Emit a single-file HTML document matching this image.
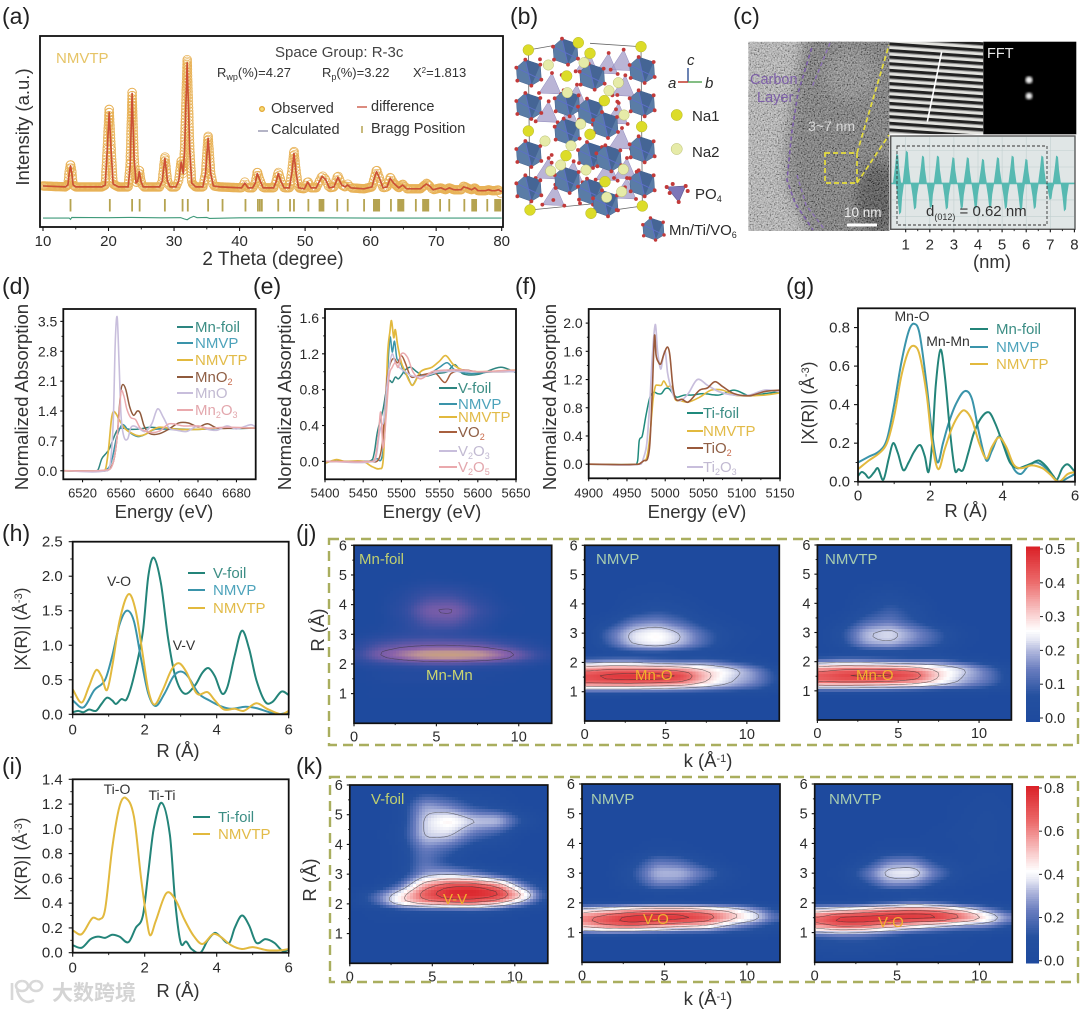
<!DOCTYPE html>
<html lang="en">
<head>
<meta charset="utf-8">
<title>NMVTP characterisation figure</title>
<style>
html,body{margin:0;padding:0;background:#fff;}
#figure{display:block;width:1080px;height:1012px;background:#fff;}
svg text{font-family:"Liberation Sans","Noto Sans CJK SC",sans-serif;fill:#2a2a2a;}
.pl{font-size:23px;fill:#222;}
.at{font-size:18.5px;fill:#333;}
.tk{font-size:14.5px;fill:#2a2a2a;}
.lg{font-size:15px;}
.ann{font-size:14px;fill:#333;}
.foil{fill:#3b8d84;}.vp{fill:#4da3bb;}.vtp{fill:#e2bb48;}.mo2{fill:#8f5f45;}.mo{fill:#c2bad2;}.m23{fill:#e3a7ad;}
.ln{stroke-width:2;fill:none;}
</style>
</head>
<body>
<svg id="figure" xmlns="http://www.w3.org/2000/svg" width="1080" height="1012" viewBox="0 0 1080 1012">
<defs>
<filter id="noise" x="0" y="0" width="100%" height="100%"><feTurbulence type="fractalNoise" baseFrequency="0.7" numOctaves="2" seed="4"/><feColorMatrix type="matrix" values="1.5 1.5 0 0 -1  1.5 1.5 0 0 -1  1.5 1.5 0 0 -1  0 0 0 0 0.42"/></filter>
<filter id="soft"><feGaussianBlur stdDeviation="6"/></filter>
<filter id="soft2"><feGaussianBlur stdDeviation="1.3"/></filter>
<clipPath id="temClip"><rect x="748.3" y="41.7" width="141" height="189.3"/></clipPath>
<clipPath id="latClip"><rect x="889.3" y="41.7" width="94" height="92.6"/></clipPath>
<pattern id="fringes" width="40" height="6.6" patternUnits="userSpaceOnUse" patternTransform="rotate(4)">
<rect width="40" height="6.6" fill="#e2e2de"/><rect y="0" width="40" height="3" fill="#222"/><rect y="3" width="40" height="0.9" fill="#888"/>
</pattern>
</defs>

<!-- TEM image (c) -->
<g id="tem">
<g clip-path="url(#temClip)">
<rect x="748.3" y="41.7" width="141" height="189.3" fill="#b2b2b2"/>
<path d="M806 30 L793 100 L786 150 L788 187 L812 240 L900 240 L900 30 Z" fill="#626262" filter="url(#soft)"/>
<ellipse cx="878" cy="198" rx="22" ry="36" fill="#2c2c2c" filter="url(#soft)"/>
<ellipse cx="850" cy="75" rx="26" ry="26" fill="#7a7a7a" filter="url(#soft)"/>
<rect x="748.3" y="41.7" width="141" height="189.3" filter="url(#noise)"/>
</g>
<path d="M811.7 48 L798 93 L791.7 133 L787 180 L795 203 L813 230" fill="none" stroke="#7a5ca8" stroke-width="1.6" stroke-dasharray="4 3"/>
<path d="M830 43 L812 87 M797 175 L806 205 L825 230" fill="none" stroke="#8a70b4" stroke-width="1.4" stroke-dasharray="4 3"/>
<text x="750" y="84" style="font-size:14.5px;fill:#7d5fa8">Carbon</text>
<text x="757" y="102" style="font-size:14.5px;fill:#7d5fa8">Layer</text>
<text x="808" y="131" style="font-size:14px;fill:#d8d8d8">3~7 nm</text>
<text x="844" y="217" style="font-size:13.5px;fill:#eee">10 nm</text>
<rect x="847" y="223.5" width="30" height="3" fill="#fff"/>
<path d="M825 153 L857 153 L857 183 L825 183 Z M857 153 L889 45 M857 183 L889 135" fill="none" stroke="#e6dd3c" stroke-width="1.7" stroke-dasharray="5 3"/>
<g clip-path="url(#latClip)">
<rect x="889.3" y="41.7" width="94" height="92.6" fill="url(#fringes)"/>
</g>
<line x1="941.7" y1="51.7" x2="927.3" y2="121.7" stroke="#fff" stroke-width="1.6"/>
<rect x="983.3" y="41.7" width="93" height="92.6" fill="#000"/>
<circle cx="1029" cy="80" r="3.6" fill="#eee" filter="url(#soft2)"/>
<circle cx="1029" cy="96" r="3.4" fill="#eee" filter="url(#soft2)"/>
<text x="987" y="58" style="font-size:14.5px;fill:#e8e8e8">FFT</text>
<rect x="890.7" y="136" width="184.3" height="93.3" fill="#e0e6e6" stroke="#555" stroke-width="1.2"/>
</g>

<g id="plots"></g>

<!-- panel letters -->
<g>
<text class="pl" x="2" y="24">(a)</text>
<text class="pl" x="510" y="24">(b)</text>
<text class="pl" x="733" y="24">(c)</text>
<text class="pl" x="2" y="294">(d)</text>
<text class="pl" x="253" y="294">(e)</text>
<text class="pl" x="515" y="294">(f)</text>
<text class="pl" x="786" y="294">(g)</text>
<text class="pl" x="2" y="541">(h)</text>
<text class="pl" x="296" y="541">(j)</text>
<text class="pl" x="2" y="774">(i)</text>
<text class="pl" x="296" y="774">(k)</text>
</g>

<!-- panel a text -->
<g>
<text class="at" transform="translate(29,127) rotate(-90)" text-anchor="middle">Intensity (a.u.)</text>
<text class="at" x="273" y="265" text-anchor="middle" style="font-size:19px">2 Theta (degree)</text>
<text x="56" y="63" style="font-size:15px;fill:#e6c466">NMVTP</text>
<text x="275" y="57" style="font-size:15px;fill:#444">Space Group: R-3c</text>
<text x="217" y="77" style="font-size:13px;fill:#333">R<tspan dy="3" font-size="9">wp</tspan><tspan dy="-3">(%)=4.27</tspan></text>
<text x="322" y="77" style="font-size:13px;fill:#333">R<tspan dy="3" font-size="9">p</tspan><tspan dy="-3">(%)=3.22</tspan></text>
<text x="413" y="77" style="font-size:13px;fill:#333">X<tspan dy="-4" font-size="8">2</tspan><tspan dy="4">=1.813</tspan></text>
<circle cx="262" cy="109" r="2.4" fill="#f3dc7a" stroke="#e3a530" stroke-width="1.2"/>
<text x="271" y="113" style="font-size:14.5px;fill:#333">Observed</text>
<line x1="258" y1="131" x2="268" y2="131" stroke="#8c8ca8" stroke-width="1.3"/>
<text x="271" y="134" style="font-size:14.5px;fill:#333">Calculated</text>
<line x1="357" y1="107" x2="367" y2="107" stroke="#cc5b4a" stroke-width="1.4"/>
<text x="371" y="111" style="font-size:14.5px;fill:#333">difference</text>
<line x1="362" y1="126" x2="362" y2="133" stroke="#b5a350" stroke-width="1.5"/>
<text x="371" y="133" style="font-size:14.5px;fill:#333">Bragg Position</text>
</g>

<!-- panel b labels -->
<g>
<text x="687" y="65" style="font-size:15px;font-style:italic">c</text>
<text x="668" y="88" style="font-size:15px;font-style:italic">a</text>
<text x="705" y="88" style="font-size:15px;font-style:italic">b</text>
<line x1="688" y1="82" x2="688" y2="68" stroke="#3a5a9a" stroke-width="1.5"/>
<line x1="688" y1="82" x2="678" y2="82" stroke="#c0392b" stroke-width="1.5"/>
<line x1="688" y1="82" x2="702" y2="82" stroke="#5aa85a" stroke-width="1.5"/>
<circle cx="676.7" cy="115" r="5.6" fill="#dcdc28" stroke="#b5b530" stroke-width="0.5"/>
<text x="692" y="121" style="font-size:15px">Na1</text>
<circle cx="676.7" cy="149" r="5.6" fill="#e6eba8" stroke="#b8bd70" stroke-width="0.5"/>
<text x="692" y="157" style="font-size:15px">Na2</text>
<text x="695" y="199" style="font-size:15px">PO<tspan dy="3" font-size="9">4</tspan></text>
<text x="669" y="235" style="font-size:15px">Mn/Ti/VO<tspan dy="3" font-size="9">6</tspan></text>
</g>

<!-- panel c labels -->
<text x="926" y="216" style="font-size:15px;fill:#333">d<tspan dy="4" font-size="9">(012)</tspan><tspan dy="-4"> = 0.62 nm</tspan></text>
<text class="at" x="992" y="268" text-anchor="middle">(nm)</text>

<!-- d -->
<g>
<text class="at" transform="translate(28,397) rotate(-90)" text-anchor="middle">Normalized Absorption</text>
<text class="at" x="164" y="518" text-anchor="middle">Energy (eV)</text>
<line class="ln" x1="177" y1="327" x2="193" y2="327" stroke="#2d8580"/>
<text class="lg foil" x="195" y="332">Mn-foil</text>
<line class="ln" x1="177" y1="343" x2="193" y2="343" stroke="#3a94aa"/>
<text class="lg vp" x="195" y="348">NMVP</text>
<line class="ln" x1="177" y1="360" x2="193" y2="360" stroke="#e2b93e"/>
<text class="lg vtp" x="195" y="365">NMVTP</text>
<line class="ln" x1="177" y1="377" x2="193" y2="377" stroke="#8f5a3c"/>
<text class="lg mo2" x="195" y="382">MnO<tspan dy="3" font-size="9" fill="#c96a4a">2</tspan></text>
<line class="ln" x1="177" y1="393" x2="193" y2="393" stroke="#c8bedc"/>
<text class="lg mo" x="195" y="398">MnO</text>
<line class="ln" x1="177" y1="410" x2="193" y2="410" stroke="#eaa9ad"/>
<text class="lg m23" x="195" y="415">Mn<tspan dy="3" font-size="9">2</tspan><tspan dy="-3">O</tspan><tspan dy="3" font-size="9">3</tspan></text>
</g>

<!-- e -->
<g>
<text class="at" transform="translate(291,397) rotate(-90)" text-anchor="middle">Normalized Absorption</text>
<text class="at" x="432" y="518" text-anchor="middle">Energy (eV)</text>
<line class="ln" x1="439" y1="388" x2="457" y2="388" stroke="#2d8580"/>
<text class="lg foil" x="458" y="393">V-foil</text>
<line class="ln" x1="439" y1="404" x2="457" y2="404" stroke="#3a94aa"/>
<text class="lg vp" x="458" y="409">NMVP</text>
<line class="ln" x1="439" y1="417" x2="457" y2="417" stroke="#e2b93e"/>
<text class="lg vtp" x="458" y="422">NMVTP</text>
<line class="ln" x1="439" y1="432" x2="457" y2="432" stroke="#a8603f"/>
<text class="lg mo2" x="458" y="437">VO<tspan dy="3" font-size="9" fill="#c96a4a">2</tspan></text>
<line class="ln" x1="439" y1="451" x2="457" y2="451" stroke="#c8bedc"/>
<text class="lg mo" x="458" y="456">V<tspan dy="3" font-size="9">2</tspan><tspan dy="-3">O</tspan><tspan dy="3" font-size="9">3</tspan></text>
<line class="ln" x1="439" y1="467" x2="457" y2="467" stroke="#eaa9ad"/>
<text class="lg m23" x="458" y="472">V<tspan dy="3" font-size="9">2</tspan><tspan dy="-3">O</tspan><tspan dy="3" font-size="9">5</tspan></text>
</g>

<!-- f -->
<g>
<text class="at" transform="translate(556,397) rotate(-90)" text-anchor="middle">Normalized Absorption</text>
<text class="at" x="697" y="518" text-anchor="middle">Energy (eV)</text>
<line class="ln" x1="687" y1="413" x2="703" y2="413" stroke="#1f8a7c"/>
<text class="lg foil" x="703" y="418">Ti-foil</text>
<line class="ln" x1="687" y1="431" x2="703" y2="431" stroke="#e2b93e"/>
<text class="lg vtp" x="703" y="436">NMVTP</text>
<line class="ln" x1="687" y1="448" x2="703" y2="448" stroke="#9a5a3c"/>
<text class="lg mo2" x="703" y="453">TiO<tspan dy="3" font-size="9" fill="#c96a4a">2</tspan></text>
<line class="ln" x1="687" y1="467" x2="703" y2="467" stroke="#c8bedc"/>
<text class="lg mo" x="703" y="472">Ti<tspan dy="3" font-size="9">2</tspan><tspan dy="-3">O</tspan><tspan dy="3" font-size="9">3</tspan></text>
</g>

<!-- g -->
<g>
<text class="at" transform="translate(814,403) rotate(-90)" text-anchor="middle" style="font-size:17.5px">|X(R)| (Å<tspan dy="-5" font-size="11">-3</tspan><tspan dy="5">)</tspan></text>
<text class="at" x="966" y="517" text-anchor="middle">R (Å)</text>
<text class="ann" x="912" y="321" text-anchor="middle">Mn-O</text>
<text class="ann" x="948" y="346" text-anchor="middle">Mn-Mn</text>
<line class="ln" x1="970" y1="329" x2="988" y2="329" stroke="#238479"/>
<text class="lg foil" x="996" y="334">Mn-foil</text>
<line class="ln" x1="970" y1="347" x2="988" y2="347" stroke="#3a94aa"/>
<text class="lg vp" x="996" y="352">NMVP</text>
<line class="ln" x1="970" y1="364" x2="988" y2="364" stroke="#e2b93e"/>
<text class="lg vtp" x="996" y="369">NMVTP</text>
</g>

<!-- h -->
<g>
<text class="at" transform="translate(27,629) rotate(-90)" text-anchor="middle" style="font-size:17.5px">|X(R)| (Å<tspan dy="-5" font-size="11">-3</tspan><tspan dy="5">)</tspan></text>
<text class="at" x="178" y="757" text-anchor="middle">R (Å)</text>
<text class="ann" x="119" y="586" text-anchor="middle">V-O</text>
<text class="ann" x="184" y="650" text-anchor="middle">V-V</text>
<line class="ln" x1="188" y1="573" x2="205" y2="573" stroke="#238479"/>
<text class="lg foil" x="213" y="578">V-foil</text>
<line class="ln" x1="188" y1="590" x2="205" y2="590" stroke="#3a94aa"/>
<text class="lg vp" x="213" y="595">NMVP</text>
<line class="ln" x1="188" y1="608" x2="205" y2="608" stroke="#e2b93e"/>
<text class="lg vtp" x="213" y="613">NMVTP</text>
</g>

<!-- i -->
<g>
<text class="at" transform="translate(27,859) rotate(-90)" text-anchor="middle" style="font-size:17.5px">|X(R)| (Å<tspan dy="-5" font-size="11">-3</tspan><tspan dy="5">)</tspan></text>
<text class="at" x="178" y="997" text-anchor="middle">R (Å)</text>
<text class="ann" x="117" y="794" text-anchor="middle">Ti-O</text>
<text class="ann" x="162" y="800" text-anchor="middle">Ti-Ti</text>
<line class="ln" x1="193" y1="817" x2="210" y2="817" stroke="#238479"/>
<text class="lg foil" x="218" y="822">Ti-foil</text>
<line class="ln" x1="193" y1="834" x2="210" y2="834" stroke="#e2b93e"/>
<text class="lg vtp" x="218" y="839">NMVTP</text>
</g>

<!-- j -->
<g>
<rect x="329" y="539" width="749" height="206" fill="none" stroke="#a9ae5e" stroke-width="2.4" stroke-dasharray="10 6"/>
<text class="at" transform="translate(324,630) rotate(-90)" text-anchor="middle">R (Å)</text>
<text class="at" x="708" y="767" text-anchor="middle">k (Å<tspan dy="-5" font-size="11">-1</tspan><tspan dy="5">)</tspan></text>
<text x="359" y="564" style="font-size:15px;fill:#c0d070">Mn-foil</text>
<text x="596" y="564" style="font-size:15px;fill:#a8cdb0">NMVP</text>
<text x="825" y="564" style="font-size:15px;fill:#a8cdb0">NMVTP</text>
<text x="426" y="680" style="font-size:15px;fill:#cdd770">Mn-Mn</text>
<text x="635" y="680" style="font-size:15px;fill:#f2b12f">Mn-O</text>
<text x="856" y="680" style="font-size:15px;fill:#f2b12f">Mn-O</text>
</g>

<!-- k -->
<g>
<rect x="330" y="777" width="748" height="205" fill="none" stroke="#a9ae5e" stroke-width="2.4" stroke-dasharray="10 6"/>
<text class="at" transform="translate(316,880) rotate(-90)" text-anchor="middle">R (Å)</text>
<text class="at" x="708" y="1005" text-anchor="middle">k (Å<tspan dy="-5" font-size="11">-1</tspan><tspan dy="5">)</tspan></text>
<text x="371" y="804" style="font-size:15px;fill:#c0d070">V-foil</text>
<text x="591" y="804" style="font-size:15px;fill:#a8cdb0">NMVP</text>
<text x="829" y="804" style="font-size:15px;fill:#a8cdb0">NMVTP</text>
<text x="443" y="904" style="font-size:15px;fill:#f2b12f">V-V</text>
<text x="643" y="924" style="font-size:15px;fill:#f2b12f">V-O</text>
<text x="878" y="927" style="font-size:15px;fill:#f2b12f">V-O</text>
</g>

<!-- watermark -->
<g>
<text x="52" y="1000" style="font-size:21px;font-weight:bold;fill:#d4d4d4">大数跨境</text>
<path d="M12 983 L12 1000 M17 990 C20 1002 28 1004 34 1000 M22 981 a6 5 0 1 0 0.1 0 M36 981 a6 5 0 1 0 0.1 0" fill="none" stroke="#d8d8d8" stroke-width="2.6"/>
</g>
</svg>

<script>
// ---------- panel (a) XRD data ----------
const xrdTheta=[10,13.4,13.8,14,14.2,14.4,14.6,15,19,19.5,19.8,20.1,20.4,20.7,21.5,23,23.3,23.6,23.9,24.2,24.45,24.7,24.95,25.3,27.8,28.2,28.6,29,29.4,30.3,30.7,31.1,31.4,31.6,32,32.4,32.7,33.3,34.4,34.8,35.2,35.6,36,37,40.3,40.8,41.3,42,42.4,42.7,43.1,43.6,45.2,45.6,45.9,46.3,46.8,47.6,48,48.3,48.6,49,49.9,50.4,50.9,51.7,52.2,52.6,53.1,53.7,54.4,55,55.6,56.1,56.5,57,59,60.2,60.6,60.9,61.3,61.9,62.5,63,63.5,64.3,64.9,65.5,67.6,68.1,68.5,69,69.5,70.7,71.4,72,72.7,73.8,74.2,74.7,75.4,75.9,76.4,77.5,78,78.5,79,79.5,80];
const xrdCalculated=[21.5,21,22,28,32,28,22,21,21,22,40,60,40,22.5,21,21,32,70,36,23,24,29,24,21,21,24,36,24,21,21,24,34,28,40,86,40,23,21,21,28,46.5,28,21.5,21,20.5,23,20.5,20.5,23,28,24.5,20.5,20.5,24,28,24,20.5,20.5,29,38.5,29,20.5,20,23.5,20.5,20.5,24,26.5,25,20.5,21,26,22,21,22,20.5,20,21,26,29,26,20.5,21,25.5,23,20.5,22,20,20,21.5,22.5,21.5,19.5,20.5,19.5,20.5,19.5,19.5,21,20.5,19.5,20.5,19,19,19.5,19,19,19.5,18.5];
const xrdObserved=[21.5,21,22,29,33,29,22,21,21,22,41,62,41,22.5,21,21,33,71,37,23,24,30,24,21,21,24,37,24,21,21,24,35,28,41,88,41,23,21,21,28,48,28,21.5,21,20.5,23.5,20.5,20.5,23,29,24.5,20.5,20.5,24,29,24,20.5,20.5,30,40,30,20.5,20,24,20.5,20.5,24,27,25,20.5,21,27,22,21,22.5,20.5,20,21,26,30,26,20.5,21,26,23,20.5,22.5,20,20,21.5,23,21.5,19.5,20.5,19.5,20.5,19.5,19.5,21.5,20.5,19.5,20.5,19,19,19.5,19,19,19.5,17];
const xrdDiffTheta=[10,14,14.2,14.4,20,23.5,28,31,31.6,32,32.4,33,33.5,35,35.4,40,48,60,80];
const xrdDifference=[4.7,4.7,4,5,4.9,5,4.8,4.9,4.2,3.8,4.7,5.6,4.9,5,4.5,4.8,4.9,4.7,4.7];
const braggPositions=[14.2,20.2,23.6,24.75,28.6,31.3,32.1,35.2,37.4,40.9,42.8,43.1,43.4,45.9,47.7,48.3,50.5,52.2,52.4,52.6,52.8,54.9,56.5,59,60.5,60.7,60.9,61.1,61.3,63.1,64.2,64.4,64.6,64.8,65,66.9,68,68.2,68.4,68.6,68.8,70.6,72,74.3,75.5,75.7,75.9,76.1,77.8,79,79.2,79.4,79.6,79.8];
const aXTicks=[10,20,30,40,50,60,70,80];

// ---------- panel (d) Mn K-edge ----------
const dEnergyFoil=[6500,6530,6536,6540,6545,6548,6552,6556,6560,6570,6580,6590,6600,6620,6640,6660,6680,6700];
const dAbsFoil=[0,0,0.02,0.28,0.42,0.52,0.75,0.95,1,0.97,0.98,1.02,1,0.98,0.97,1,0.99,1];
const dEnergyNMVP=[6500,6540,6545,6548,6551,6555,6558,6561,6564,6568,6572,6578,6585,6595,6610,6630,6650,6670,6700];
const dAbsNMVP=[0,0,0.03,0.1,0.3,0.75,0.95,1.08,1.05,0.92,0.85,0.8,0.85,0.97,0.97,0.97,0.98,1,1];
const dEnergyNMVTP=[6500,6540,6544,6547,6550,6552,6555,6558,6562,6566,6572,6578,6585,6592,6600,6620,6640,6660,6700];
const dAbsNMVTP=[0,0,0.05,0.5,1.2,1.38,1.33,1.2,1.05,0.95,0.87,0.82,0.85,0.95,1.02,0.97,0.97,1,1];
const dEnergyMnO2=[6500,6545,6550,6553,6556,6558,6560,6562,6565,6569,6573,6577,6580,6584,6590,6600,6610,6620,6630,6640,6650,6660,6680,6700];
const dAbsMnO2=[0,0,0.1,0.3,0.8,1.4,1.9,2.02,1.9,1.5,1.3,1.4,1.35,1.05,0.87,0.87,0.98,1.12,1.12,1.03,1.1,1,1,1];
const dEnergyMnO=[6500,6545,6549,6552,6554,6556,6558,6560,6563,6567,6570,6573,6578,6585,6592,6598,6604,6610,6618,6628,6640,6650,6660,6670,6680,6695,6700];
const dAbsMnO=[0,0,0.2,1.2,3,3.6,2.5,1.3,0.8,0.75,1,1.05,1,0.92,1.1,1.45,1.25,1,0.95,0.92,1.05,0.97,0.95,1.05,0.98,1.08,1.03];
const dEnergyMn2O3=[6500,6548,6552,6555,6558,6560,6563,6566,6570,6575,6580,6590,6600,6610,6625,6640,6650,6670,6700];
const dAbsMn2O3=[0,0.03,0.2,0.6,1.3,1.85,1.75,1.45,1.25,1.2,1,0.9,0.93,1.1,1.05,1.05,1,1.02,1];
const dXTicks=[6520,6560,6600,6640,6680];
const dYTicks=[0,0.7,1.4,2.1,2.8,3.5];

// ---------- panel (e) V K-edge ----------
const eEnergyFoil=[5400,5450,5462,5465,5468,5472,5476,5480,5484,5488,5492,5496,5500,5505,5512,5520,5530,5545,5560,5570,5580,5600,5630,5650];
const eAbsFoil=[0,0,0.02,0.12,0.3,0.45,0.58,0.78,0.9,0.88,0.94,0.92,0.96,1.02,1.05,1,0.95,0.98,1,1.08,0.98,0.97,1.05,0.99];
const eEnergyNMVP=[5400,5460,5468,5474,5478,5481,5485,5488,5491,5494,5498,5503,5508,5514,5522,5535,5550,5560,5570,5590,5620,5650];
const eAbsNMVP=[0,0,0.03,0.03,0.3,0.85,1.38,1.22,1.34,1.15,1.12,1,0.95,0.85,0.95,0.97,1.05,1.1,1.02,0.98,1,1];
const eEnergyNMVTP=[5400,5415,5425,5450,5462,5472,5476,5479,5482,5485,5487,5490,5492,5495,5500,5505,5510,5515,5525,5540,5550,5558,5568,5580,5600,5650];
const eAbsNMVTP=[-0.02,0.02,0,0,-0.06,-0.08,0,0.5,1.2,1.45,1.57,1.38,1.47,1.3,1.1,1,0.9,0.85,1,1.05,1.12,1.18,1.08,1.02,1,1.02];
const eEnergyVO2=[5400,5460,5470,5475,5478,5481,5485,5490,5495,5500,5505,5512,5520,5530,5545,5557,5565,5580,5600,5650];
const eAbsVO2=[0,0,0.02,0.2,0.55,0.9,1.08,1.15,1.1,1.18,1.1,0.95,0.95,0.97,0.98,0.88,0.98,1.02,1,1];
const eEnergyV2O3=[5400,5465,5468,5471,5474,5477,5480,5484,5488,5492,5497,5505,5515,5530,5550,5600,5650];
const eAbsV2O3=[0,0,0.1,0.3,0.4,0.45,0.75,1.05,1.2,1.1,1.05,1,0.95,0.95,1,1,1];
const eEnergyV2O5=[5400,5460,5466,5470,5473,5476,5480,5484,5488,5492,5496,5500,5508,5515,5525,5540,5560,5580,5600,5650];
const eAbsV2O5=[0,0,0.05,0.3,0.55,0.15,0.5,0.95,1.05,1.1,1.05,1.2,1.16,1,0.92,1,1.02,1.02,1,1.02];
const eXTicks=[5400,5450,5500,5550,5600,5650];
const eYTicks=[0,0.4,0.8,1.2,1.6];

// ---------- panel (f) Ti K-edge ----------
const fEnergyFoil=[4900,4960,4964,4966,4970,4975,4980,4985,4990,4995,5000,5005,5010,5015,5025,5035,5050,5070,5090,5110,5130,5150];
const fAbsFoil=[0,0,0.05,0.33,0.4,0.7,0.95,1.02,1,1,1.07,1.07,1,0.95,0.98,0.98,1,0.98,1.05,0.97,1,1.03];
const fEnergyNMVTP=[4900,4965,4972,4976,4980,4984,4987,4990,4995,4998,5003,5008,5013,5020,5030,5045,5060,5075,5090,5110,5130,5150];
const fAbsNMVTP=[0,0,0.05,0.1,0.4,0.9,1.1,1.12,1.12,1.18,1.1,1.1,0.92,0.9,0.88,0.95,1.05,1.05,0.98,0.97,0.98,1.01];
const fEnergyTiO2=[4900,4965,4972,4977,4980,4983,4986,4988,4991,4994,4998,5003,5006,5010,5014,5022,5030,5045,5055,5065,5075,5090,5110,5130,5150];
const fAbsTiO2=[0,0,0.05,0.08,0.3,1,1.82,1.55,1.45,1.42,1.55,1.66,1.55,1.1,0.92,0.92,0.88,1.05,1.08,1.17,1.1,1,0.97,1.03,1.05];
const fEnergyTi2O3=[4900,4968,4972,4976,4980,4983,4987,4990,4994,4997,5000,5003,5007,5012,5020,5030,5042,5055,5070,5090,5110,5130,5150];
const fAbsTi2O3=[0,0,0.1,0.3,0.9,1.5,1.98,1.6,1.35,1.5,1.6,1.3,1.1,0.95,0.9,1,1.2,1.12,1.03,0.98,0.98,1.05,1.03];
const fXTicks=[4900,4950,5000,5050,5100,5150];
const fYTicks=[0,0.4,0.8,1.2,1.6,2];

// ---------- panel (g) Mn FT-EXAFS ----------
const gRFoil=[0,0.1,0.2,0.3,0.45,0.55,0.7,0.85,0.97,1.1,1.25,1.4,1.55,1.72,1.85,1.95,2.05,2.15,2.28,2.4,2.55,2.68,2.78,2.9,3.05,3.2,3.4,3.62,3.8,4,4.2,4.4,4.6,4.8,5,5.2,5.4,5.5,5.65,5.8,6];
const gXFoil=[0.03,0.05,0.04,0.02,0.05,0.07,0.01,0.12,0.2,0.15,0.06,0.1,0.155,0.19,0.13,0.05,0.2,0.5,0.685,0.55,0.25,0.06,0.065,0.06,0.15,0.25,0.33,0.36,0.3,0.2,0.1,0.07,0.08,0.095,0.11,0.08,0.03,0.01,0.07,0.09,0.05];
const gRNMVP=[0,0.3,0.6,0.8,1,1.2,1.4,1.55,1.7,1.9,2.05,2.2,2.35,2.5,2.7,2.95,3.15,3.35,3.55,3.7,3.9,4.1,4.3,4.5,4.7,4.9,5.1,5.3,5.55,5.8,6];
const gXNMVP=[0.1,0.13,0.16,0.22,0.4,0.62,0.78,0.82,0.77,0.5,0.25,0.1,0.2,0.3,0.4,0.47,0.43,0.25,0.11,0.16,0.235,0.17,0.07,0.04,0.08,0.1,0.085,0.05,0,0.02,0.04];
const gRNMVTP=[0,0.3,0.6,0.8,1,1.2,1.4,1.55,1.7,1.9,2.05,2.22,2.4,2.6,2.8,2.95,3.15,3.35,3.55,3.7,3.9,4.1,4.3,4.5,4.8,5.1,5.3,5.55,5.8,6];
const gXNMVTP=[0.065,0.11,0.15,0.2,0.34,0.55,0.68,0.705,0.66,0.45,0.2,0.065,0.17,0.28,0.35,0.37,0.32,0.2,0.12,0.18,0.23,0.18,0.09,0.07,0.085,0.07,0.04,0,0.04,0.05];
const gXTicks=[0,2,4,6];
const gYTicks=[0,0.2,0.4,0.6,0.8];

// ---------- panel (h) V FT-EXAFS ----------
const hRFoil=[0,0.15,0.3,0.45,0.65,0.8,0.95,1.1,1.2,1.35,1.5,1.7,1.95,2.1,2.25,2.45,2.65,2.85,3.1,3.4,3.6,3.77,3.95,4.15,4.3,4.5,4.7,4.9,5.1,5.35,5.55,5.8,6];
const hXFoil=[0.03,0.05,0.03,0.07,0.05,0.15,0.24,0.2,0.15,0.22,0.22,0.55,1.2,2,2.27,1.9,1.1,0.55,0.3,0.42,0.6,0.67,0.55,0.3,0.4,0.85,1.21,0.95,0.5,0.18,0.18,0.33,0.28];
const hRNMVP=[0,0.3,0.6,0.9,1.1,1.3,1.5,1.7,1.9,2.1,2.3,2.55,2.8,3,3.2,3.5,3.8,4.1,4.4,4.8,5.1,5.4,5.7,6];
const hXNMVP=[0.2,0.1,0.35,0.5,0.85,1.3,1.5,1.35,0.8,0.3,0.12,0.3,0.55,0.62,0.55,0.3,0.2,0.12,0.08,0.11,0.09,0.04,0,0.03];
const hRNMVTP=[0,0.25,0.45,0.65,0.8,0.95,1.1,1.3,1.55,1.75,1.95,2.1,2.27,2.5,2.75,2.95,3.15,3.45,3.75,3.95,4.2,4.5,4.75,5.1,5.4,5.8,6];
const hXNMVTP=[0.36,0.17,0.4,0.64,0.55,0.35,0.7,1.35,1.74,1.5,0.85,0.35,0.14,0.35,0.65,0.74,0.62,0.3,0.32,0.2,0.07,0.08,0.05,0.16,0.08,0,0.05];
const hYTicks=[0,0.5,1,1.5,2,2.5];

// ---------- panel (i) Ti FT-EXAFS ----------
const iRFoil=[0,0.25,0.5,0.7,0.9,1.1,1.3,1.55,1.75,1.95,2.1,2.25,2.47,2.7,2.85,3,3.15,3.3,3.55,3.75,3.95,4.1,4.35,4.5,4.7,4.9,5.1,5.35,5.6,5.85,6];
const iXFoil=[0.06,0.04,0.11,0.13,0.12,0.145,0.13,0.085,0.2,0.3,0.65,1,1.21,0.95,0.4,0.08,0.09,0.03,0,0.1,0.16,0.13,0.08,0.2,0.3,0.22,0.08,0.11,0.08,0.01,0.03];
const iRNMVTP=[0,0.25,0.55,0.75,0.9,1.1,1.3,1.47,1.7,1.9,2.05,2.15,2.3,2.6,2.85,3.1,3.35,3.6,3.9,4.1,4.4,4.7,5,5.4,5.8,6];
const iXNMVTP=[0.18,0.15,0.28,0.27,0.35,0.85,1.18,1.25,1.1,0.6,0.28,0.14,0.25,0.48,0.43,0.27,0.14,0.07,0.15,0.13,0.06,0.03,0.045,0.02,0.02,0.03];
const iYTicks=[0,0.2,0.4,0.6,0.8,1,1.2,1.4];

// ---------- panel (c) inset line profile ----------
const profileUpNm=[0.64,1.04,1.71,2.33,2.97,3.57,4.2,4.82,5.43,6,6.66,7.27];
const profileUp=[0.9,1,0.85,0.85,0.8,0.8,0.75,0.8,0.85,0.75,0.85,0.85];
const profileDownNm=[0.76,1.38,2.04,2.7,3.32,3.9,4.5,5.15,5.78,6.35,7,7.6];
const profileDown=[0.95,0.8,0.75,0.8,0.78,0.78,0.75,0.78,0.82,0.78,0.5,0.85];
const cXTicks=[1,2,3,4,5,6,7,8];

// ---------- wavelet heatmaps (fraction of colour-bar range, x100) ----------
const waveletK=[0,1.5,3,4.5,6,7.5,9,10.5,12];
const waveletR=[6,5.3,4.8,4.3,3.8,3.4,3,2.6,2.3,2,1.8,1.5,1.2,1,0.8,0];
const jFoilHeat=[
[0,0,0,0,0,0,0,0,0],[0,0,0,0,0,0,0,0,0],[0,0,0,2,1,0,0,0,0],[0,0,5,18,18,6,0,0,0],
[0,0,10,42,46,18,3,0,0],[0,0,6,26,28,10,0,0,0],[0,3,8,10,8,4,0,0,0],[5,25,35,40,40,35,22,8,0],
[10,45,70,92,95,88,65,30,5],[3,10,15,20,20,15,10,5,0],[0,2,3,3,3,2,2,0,0],[0,2,4,4,3,2,1,0,0],
[0,0,0,0,0,0,0,0,0],[0,1,1,1,1,1,0,0,0],[0,0,0,0,0,0,0,0,0],[0,0,0,0,0,0,0,0,0]];
const jNMVPHeat=[
[0,0,0,0,0,0,0,0,0],[0,0,0,0,0,0,0,0,0],[0,0,0,1,0,0,0,0,0],[0,0,3,5,2,0,0,0,0],
[0,0,8,15,10,2,0,0,0],[0,8,28,32,22,8,2,0,0],[0,25,48,55,42,22,8,2,0],[0,20,45,52,40,22,5,0,0],
[0,2,5,5,3,3,2,0,0],[35,40,38,30,28,30,18,8,0],[72,78,78,78,72,58,50,32,8],[92,98,100,100,96,66,45,35,12],
[72,72,72,68,62,52,40,28,10],[15,15,14,14,12,10,10,8,3],[0,0,0,0,0,0,0,0,0],[0,0,0,0,0,0,0,0,0]];
const jNMVTPHeat=[
[0,0,0,0,0,0,0,0,0],[0,0,0,0,0,0,0,0,0],[0,0,0,1,0,0,0,0,0],[0,0,5,10,3,0,0,0,0],
[0,0,10,20,12,0,0,0,0],[0,5,22,28,15,3,0,0,0],[0,15,42,48,35,20,5,0,0],[0,12,38,42,30,18,3,0,0],
[0,2,5,6,4,3,0,0,0],[30,35,32,26,24,26,14,5,0],[68,74,74,74,68,55,46,26,5],[88,95,98,98,92,62,42,30,8],
[70,70,68,64,58,48,36,24,8],[14,14,13,13,11,9,9,7,2],[0,0,0,0,0,0,0,0,0],[0,0,0,0,0,0,0,0,0]];
const kFoilHeat=[
[0,0,0,3,0,0,0,0,0],[0,0,5,38,30,15,8,0,0],[0,0,5,45,58,45,45,15,0],[0,0,8,45,45,25,15,0,0],
[0,0,5,30,20,5,3,0,0],[0,0,5,28,12,3,0,0,0],[0,0,5,35,40,30,15,3,0],[0,0,25,72,92,95,78,30,3],
[0,25,55,88,100,100,98,65,10],[3,20,55,68,78,80,62,32,5],[0,2,10,15,15,18,12,5,0],[0,2,3,3,3,3,2,0,0],
[0,0,0,0,0,0,0,0,0],[0,0,0,0,0,0,0,0,0],[0,0,0,0,0,0,0,0,0],[0,0,0,0,0,0,0,0,0]];
const kNMVPHeat=[
[0,0,0,0,0,0,0,0,0],[0,0,0,0,0,0,0,0,0],[0,0,0,0,0,0,0,0,0],[0,0,0,0,0,0,0,0,0],
[0,0,0,5,3,0,0,0,0],[0,0,8,28,24,8,0,0,0],[0,0,15,42,42,28,8,0,0],[0,0,10,30,28,12,3,0,0],
[0,0,0,3,2,0,0,0,0],[2,3,5,5,5,5,3,2,0],[45,55,65,72,72,65,55,35,8],[78,90,100,100,100,92,70,52,22],
[62,78,82,72,62,58,35,18,5],[28,28,25,22,18,16,14,12,3],[0,0,0,0,0,0,0,0,0],[0,0,0,0,0,0,0,0,0]];
const kNMVTPHeat=[
[0,0,0,0,0,0,0,3,0],[0,0,0,0,0,0,3,6,3],[0,0,0,0,0,0,4,8,3],[0,0,0,0,0,3,6,8,4],
[0,0,0,5,5,0,4,7,4],[0,0,8,30,32,12,5,8,5],[0,3,25,50,52,28,8,5,2],[0,0,12,32,30,12,3,0,0],
[0,0,0,3,3,0,0,0,0],[5,5,8,15,25,18,8,3,0],[45,52,62,72,78,70,55,30,8],[82,98,100,100,100,100,85,60,32],
[70,82,80,68,55,42,30,28,10],[35,42,38,28,18,14,12,8,3],[14,18,18,12,6,5,3,0,0],[0,0,0,0,0,0,0,0,0]];
const heatXTicks=[0,5,10];
const heatYTicks=[1,2,3,4,5,6];
const jBarTicks=[0,0.1,0.2,0.3,0.4,0.5];
const kBarTicks=[0,0.2,0.4,0.6,0.8];

// ---------- helpers ----------
const NS='http://www.w3.org/2000/svg';
const plots=document.getElementById('plots');
function mk(tag,attrs,parent,name){
  const el=document.createElementNS(NS,tag);
  for(const k in attrs)el.setAttribute(k,attrs[k]);
  
  
  parent.appendChild(el);
  return el;
}
function linear(d0,d1,r0,r1){return v=>r0+(v-d0)*(r1-r0)/(d1-d0);}
function smoothPath(xs,ys,sx,sy){
  const n=Math.min(xs.length,ys.length);
  const slope=i=>{const a=Math.max(i-1,0),b=Math.min(i+1,n-1);return (sy(ys[b])-sy(ys[a]))/(sx(xs[b])-sx(xs[a]));};
  let d='M'+sx(xs[0]).toFixed(2)+' '+sy(ys[0]).toFixed(2);
  for(let i=0;i<n-1;i++){
    const x1=sx(xs[i]),y1=sy(ys[i]),x2=sx(xs[i+1]),y2=sy(ys[i+1]),dx=(x2-x1)/3;
    d+=' C'+(x1+dx).toFixed(2)+' '+(y1+slope(i)*dx).toFixed(2)+' '+(x2-dx).toFixed(2)+' '+(y2-slope(i+1)*dx).toFixed(2)+' '+x2.toFixed(2)+' '+y2.toFixed(2);
  }
  return d;
}
function straightPath(xs,ys,sx,sy){
  let d='';
  const n=Math.min(xs.length,ys.length);
  for(let i=0;i<n;i++)d+=(i?' L':'M')+sx(xs[i]).toFixed(2)+' '+sy(ys[i]).toFixed(2);
  return d;
}
let clipCount=0;
function panel(name,box,xDom,yDom){
  const g=mk('g',{},plots,name+'-plot');
  const id='clip'+(++clipCount);
  const cp=document.createElementNS(NS,'clipPath');
  cp.setAttribute('id',id);
  const r=document.createElementNS(NS,'rect');
  r.setAttribute('x',box.x0);r.setAttribute('y',box.y0);r.setAttribute('width',box.x1-box.x0);r.setAttribute('height',box.y1-box.y0);
  cp.appendChild(r);g.appendChild(cp);
  const marks=mk('g',{'clip-path':'url(#'+id+')'},g,name+'-marks');
  return {g,marks,box,sx:linear(xDom[0],xDom[1],box.x0,box.x1),sy:linear(yDom[0],yDom[1],box.y1,box.y0),name};
}
function axes(p,xTicks,yTicks,opt){
  const o=Object.assign({xFmt:v=>String(v),yFmt:v=>v.toFixed(1),xMinor:0,yMinor:0,xOff:19,yOff:8,tick:4,fs:14.5,xFs:14.5,sw:1.8,frame:'#111'},opt||{});
  const b=p.box,g=p.g;
  mk('rect',{x:b.x0,y:b.y0,width:b.x1-b.x0,height:b.y1-b.y0,fill:'none',stroke:o.frame,'stroke-width':o.sw},g,p.name+'-frame');
  xTicks.forEach(t=>{
    const x=p.sx(t);
    mk('line',{x1:x,x2:x,y1:b.y1,y2:b.y1+o.tick,stroke:'#111','stroke-width':1.1},g,p.name+'-x-tick');
    const tx=mk('text',{x:x,y:b.y1+o.xOff,'text-anchor':'middle',style:'font-size:'+o.xFs+'px'},g,p.name+'-x-tick-label');
    tx.textContent=o.xFmt(t);
  });
  if(o.xMinor){for(let i=0;i<xTicks.length-1;i++){const x=p.sx((xTicks[i]+xTicks[i+1])/2);
    mk('line',{x1:x,x2:x,y1:b.y1,y2:b.y1+o.tick*0.6,stroke:'#111','stroke-width':0.9},g,p.name+'-x-minor-tick');}}
  yTicks.forEach(t=>{
    const y=p.sy(t);
    mk('line',{x1:b.x0-o.tick,x2:b.x0,y1:y,y2:y,stroke:'#111','stroke-width':1.1},g,p.name+'-y-tick');
    const tx=mk('text',{x:b.x0-o.yOff,y:y+5,'text-anchor':'end',style:'font-size:'+o.fs+'px'},g,p.name+'-y-tick-label');
    tx.textContent=o.yFmt(t);
  });
  if(o.yMinor){for(let i=0;i<yTicks.length-1;i++){const y=p.sy((yTicks[i]+yTicks[i+1])/2);
    mk('line',{x1:b.x0-o.tick*0.6,x2:b.x0,y1:y,y2:y,stroke:'#111','stroke-width':0.9},g,p.name+'-y-minor-tick');}}
}
function series(p,xs,ys,color,width,name){
  mk('path',{d:smoothPath(xs,ys,p.sx,p.sy),fill:'none',stroke:color,'stroke-width':width,'stroke-linejoin':'round'},p.marks,name);
}

// ---------- panel a ----------
(function(){
  const p=panel('a',{x0:40,x1:503,y0:36,y1:227},[9.544,80.2],[0,100]);
  const pts=[];
  const n=xrdTheta.length;
  for(let i=0;i<n;i++)pts.push([p.sx(xrdTheta[i]),p.sy(xrdObserved[i])]);
  let carry=0;
  const gObs=mk('g',{},p.marks,'observed-points');
  for(let i=0;i<n-1;i++){
    const dx=pts[i+1][0]-pts[i][0],dy=pts[i+1][1]-pts[i][1],len=Math.hypot(dx,dy);
    const step=Math.abs(dy)<Math.abs(dx)?1.1:3.2;
    let s=carry;
    while(s<len){
      mk('circle',{cx:(pts[i][0]+dx*s/len).toFixed(1),cy:(pts[i][1]+dy*s/len).toFixed(1),r:4.3,fill:'none',stroke:'#e8b257','stroke-width':0.8},gObs,'observed-point');
      s+=step;
    }
    carry=Math.min(s-len,1);
  }
  mk('path',{d:straightPath(xrdTheta,xrdCalculated,p.sx,p.sy),fill:'none',stroke:'#c55a30','stroke-width':1.7,'stroke-linejoin':'round'},p.marks,'calculated-line');
  mk('path',{d:straightPath(xrdTheta,xrdCalculated,p.sx,p.sy),fill:'none',stroke:'#d24a3c','stroke-width':0.7},p.marks,'difference-overlay-line');
  braggPositions.forEach(t=>{
    const x=p.sx(t);
    mk('line',{x1:x,x2:x,y1:199,y2:211.5,stroke:'#b5a350','stroke-width':1.8},p.marks,'bragg-tick');
  });
  mk('path',{d:straightPath(xrdDiffTheta,xrdDifference,p.sx,p.sy),fill:'none',stroke:'#3f9a7a','stroke-width':1.1},p.marks,'difference-line');
  axes(p,aXTicks,[],{xMinor:true,xFs:15,xOff:19});
})();

// ---------- panels d,e,f ----------
(function(){
  const p=panel('d',{x0:63.3,x1:255.7,y0:309,y1:479.3},[6500,6700],[-0.2,3.79]);
  series(p,dEnergyFoil,dAbsFoil,'#2d8580',1.5,'d-line-mn-foil');
  series(p,dEnergyNMVP,dAbsNMVP,'#3a94aa',1.5,'d-line-nmvp');
  series(p,dEnergyNMVTP,dAbsNMVTP,'#e2b93e',1.7,'d-line-nmvtp');
  series(p,dEnergyMnO2,dAbsMnO2,'#8f5a3c',1.5,'d-line-mno2');
  series(p,dEnergyMnO,dAbsMnO,'#c8bedc',1.6,'d-line-mno');
  series(p,dEnergyMn2O3,dAbsMn2O3,'#eaa9ad',1.5,'d-line-mn2o3');
  axes(p,dXTicks,dYTicks,{xMinor:true,yMinor:true,xFs:13,xOff:18,fs:14,yOff:6,tick:3});
})();
(function(){
  const p=panel('e',{x0:325,x1:516,y0:309,y1:479.3},[5400,5650],[-0.2,1.7]);
  series(p,eEnergyFoil,eAbsFoil,'#2d8580',1.5,'e-line-v-foil');
  series(p,eEnergyNMVP,eAbsNMVP,'#3a94aa',1.5,'e-line-nmvp');
  series(p,eEnergyNMVTP,eAbsNMVTP,'#e2b93e',1.7,'e-line-nmvtp');
  series(p,eEnergyVO2,eAbsVO2,'#a8603f',1.5,'e-line-vo2');
  series(p,eEnergyV2O3,eAbsV2O3,'#c8bedc',1.5,'e-line-v2o3');
  series(p,eEnergyV2O5,eAbsV2O5,'#eaa9ad',1.5,'e-line-v2o5');
  axes(p,eXTicks,eYTicks,{xMinor:true,yMinor:true,xFs:13,xOff:18,fs:14,yOff:6,tick:3});
})();
(function(){
  const p=panel('f',{x0:588.7,x1:780,y0:309,y1:478.3},[4900,5150],[-0.2,2.2]);
  series(p,fEnergyFoil,fAbsFoil,'#1f8a7c',1.5,'f-line-ti-foil');
  series(p,fEnergyNMVTP,fAbsNMVTP,'#e2b93e',1.6,'f-line-nmvtp');
  series(p,fEnergyTi2O3,fAbsTi2O3,'#c8bedc',1.7,'f-line-ti2o3');
  series(p,fEnergyTiO2,fAbsTiO2,'#9a5a3c',1.6,'f-line-tio2');
  axes(p,fXTicks,fYTicks,{xMinor:true,yMinor:true,xFs:13,xOff:19,fs:14,yOff:6,tick:3});
})();

// ---------- panels g,h,i ----------
(function(){
  const p=panel('g',{x0:858,x1:1075,y0:308.3,y1:481.7},[0,6],[0,0.9]);
  series(p,gRNMVP,gXNMVP,'#3a94aa',2,'g-line-nmvp');
  series(p,gRFoil,gXFoil,'#238479',2,'g-line-mn-foil');
  series(p,gRNMVTP,gXNMVTP,'#e2b93e',2,'g-line-nmvtp');
  axes(p,gXTicks,gYTicks,{xFmt:v=>String(v),xMinor:true,yMinor:true,xFs:15,fs:15});
})();
(function(){
  const p=panel('h',{x0:72.7,x1:288.7,y0:541.7,y1:714.3},[0,6],[0,2.5]);
  series(p,hRFoil,hXFoil,'#238479',2,'h-line-v-foil');
  series(p,hRNMVP,hXNMVP,'#3a94aa',2,'h-line-nmvp');
  series(p,hRNMVTP,hXNMVTP,'#e2b93e',2,'h-line-nmvtp');
  axes(p,gXTicks,hYTicks,{xMinor:true,yMinor:true,xFs:15,fs:15,xOff:20,yOff:10});
})();
(function(){
  const p=panel('i',{x0:72.7,x1:288.7,y0:779.3,y1:952.7},[0,6],[0,1.4]);
  series(p,iRFoil,iXFoil,'#238479',2,'i-line-ti-foil');
  series(p,iRNMVTP,iXNMVTP,'#e2b93e',2,'i-line-nmvtp');
  axes(p,gXTicks,iYTicks,{xMinor:true,yMinor:true,xFs:15,fs:15,xOff:20,yOff:10});
})();

// ---------- panel c inset ----------
(function(){
  const b={x0:890.7,x1:1075,y0:136,y1:229.3};
  const xDom=[(890.7-881.6)/24.1,(1075-881.6)/24.1];
  const p=panel('c-inset',b,xDom,[-1.39,1.44]);
  cXTicks.forEach(t=>{mk('line',{x1:p.sx(t),x2:p.sx(t),y1:b.y0,y2:b.y1,stroke:'#c2d0d0','stroke-width':0.6},p.marks,'inset-grid-vertical');});
  [-1,-0.5,0.5,1].forEach(v=>{mk('line',{x1:b.x0,x2:b.x1,y1:p.sy(v),y2:p.sy(v),stroke:'#c2d0d0','stroke-width':0.6},p.marks,'inset-grid-horizontal');});
  const halfNm=0.17;
  profileUpNm.forEach((nm,i)=>{
    const pts=[[nm-halfNm,0],[nm-0.08,profileUp[i]*0.6],[nm-0.03,profileUp[i]],[nm+0.05,profileUp[i]*0.95],[nm+0.09,profileUp[i]*0.5],[nm+halfNm,0]];
    mk('polygon',{points:pts.map(q=>p.sx(q[0]).toFixed(1)+','+p.sy(q[1]).toFixed(1)).join(' '),fill:'#57b9b1'},p.marks,'profile-up-lobe');
  });
  profileDownNm.forEach((nm,i)=>{
    const pts=[[nm-halfNm,0],[nm-0.09,-profileDown[i]*0.5],[nm-0.03,-profileDown[i]],[nm+0.05,-profileDown[i]*0.92],[nm+0.09,-profileDown[i]*0.45],[nm+halfNm,0]];
    mk('polygon',{points:pts.map(q=>p.sx(q[0]).toFixed(1)+','+p.sy(q[1]).toFixed(1)).join(' '),fill:'#57b9b1'},p.marks,'profile-down-lobe');
  });
  mk('line',{x1:b.x0,x2:b.x1,y1:p.sy(0),y2:p.sy(0),stroke:'#57b9b1','stroke-width':1.6},p.marks,'profile-center-line');
  mk('rect',{x:897,y:146,width:150,height:79,fill:'none',stroke:'#333','stroke-width':0.9,'stroke-dasharray':'3 2'},p.g,'inset-dashed-region');
  axes(p,cXTicks,[],{frame:'#555',sw:1.2,xFs:15,xOff:20,tick:3,xMinor:true});
})();

// ---------- heatmaps ----------
const redBlueStops=[[0,'#1e4a9e'],[0.15,'#24509f'],[0.3,'#6a7dbf'],[0.4,'#aeb6dc'],[0.47,'#e6e8f4'],[0.52,'#ffffff'],[0.62,'#f9cccc'],[0.8,'#ec6a6a'],[1,'#da2027']];
const foilStops=[[0,'#1e4a9e'],[0.15,'#374fa2'],[0.35,'#6c5aa8'],[0.5,'#8a62aa'],[0.7,'#bd9396'],[1,'#d9b45f']];
function hex(c){return [parseInt(c.slice(1,3),16),parseInt(c.slice(3,5),16),parseInt(c.slice(5,7),16)];}
function colorAt(stops,v){
  v=Math.max(0,Math.min(1,v));
  for(let i=0;i<stops.length-1;i++){
    if(v<=stops[i+1][0]){
      const t=(v-stops[i][0])/(stops[i+1][0]-stops[i][0]);
      const a=hex(stops[i][1]),b=hex(stops[i+1][1]);
      return 'rgb('+Math.round(a[0]+(b[0]-a[0])*t)+','+Math.round(a[1]+(b[1]-a[1])*t)+','+Math.round(a[2]+(b[2]-a[2])*t)+')';
    }
  }
  return stops[stops.length-1][1];
}
function sampleHeat(values,k,r){
  let c=0;while(c<waveletK.length-2&&k>waveletK[c+1])c++;
  let w=0;while(w<waveletR.length-2&&r<waveletR[w+1])w++;
  const tk=(k-waveletK[c])/(waveletK[c+1]-waveletK[c]);
  const tr=(waveletR[w]-r)/(waveletR[w]-waveletR[w+1]);
  const a=values[w][c]*(1-tk)+values[w][c+1]*tk;
  const b=values[w+1][c]*(1-tk)+values[w+1][c+1]*tk;
  return (a*(1-tr)+b*tr)/100;
}
function blur(f,nx,ny,horizontal){
  const out=f.map(r=>r.slice());
  for(let j=0;j<ny;j++)for(let i=0;i<nx;i++){
    let s=0,c=0;
    for(let d=-1;d<=1;d++){
      const ii=horizontal?i+d:i,jj=horizontal?j:j+d;
      if(ii>=0&&ii<nx&&jj>=0&&jj<ny){s+=f[jj][ii];c++;}
    }
    out[j][i]=s/c;
  }
  return out;
}
function heatPanel(name,box,values,stops,levels){
  const p=panel(name,box,[0,12],[0,6]);
  const cell=3,w=box.x1-box.x0,h=box.y1-box.y0;
  const nx=Math.ceil(w/cell),ny=Math.ceil(h/cell);
  let f=[];
  for(let j=0;j<ny;j++){
    const row=[];
    for(let i=0;i<nx;i++){
      row.push(sampleHeat(values,Math.min(12,(i+0.5)*cell/w*12),Math.max(0,6*(1-(j+0.5)*cell/h))));
    }
    f.push(row);
  }
  for(let s=0;s<4;s++)f=blur(f,nx,ny,true);
  f=blur(f,nx,ny,false);
  for(let j=0;j<ny;j++){
    for(let i=0;i<nx;i++){
      mk('rect',{x:box.x0+i*cell,y:box.y0+j*cell,width:cell+0.4,height:cell+0.4,fill:colorAt(stops,f[j][i]),'shape-rendering':'crispEdges'},p.marks,'heatmap-cell');
    }
  }
  levels.forEach(L=>{
    let d='';
    for(let j=0;j<ny-1;j++)for(let i=0;i<nx-1;i++){
      const a=f[j][i],b=f[j][i+1],c=f[j+1][i+1],e=f[j+1][i];
      const X=q=>(box.x0+(q+0.5)*cell).toFixed(1),Y=q=>(box.y0+(q+0.5)*cell).toFixed(1);
      const cr=[];
      if((a<L)!==(b<L))cr.push([X(i+(L-a)/(b-a)),Y(j)]);
      if((b<L)!==(c<L))cr.push([X(i+1),Y(j+(L-b)/(c-b))]);
      if((e<L)!==(c<L))cr.push([X(i+(L-e)/(c-e)),Y(j+1)]);
      if((a<L)!==(e<L))cr.push([X(i),Y(j+(L-a)/(e-a))]);
      if(cr.length>=2)d+='M'+cr[0][0]+' '+cr[0][1]+'L'+cr[1][0]+' '+cr[1][1];
      if(cr.length===4)d+='M'+cr[2][0]+' '+cr[2][1]+'L'+cr[3][0]+' '+cr[3][1];
    }
    mk('path',{d:d,fill:'none',stroke:'#333','stroke-width':0.6,'stroke-opacity':0.65},p.marks,'contour-line');
  });
  axes(p,heatXTicks,heatYTicks,{xFmt:v=>String(v),yFmt:v=>String(v),xMinor:true,yMinor:true,xFs:14.5,fs:14.5,xOff:18,yOff:7,tick:3,sw:1.7});
}
const colorLevels=[0.42,0.6,0.78,0.9];
heatPanel('j-mn-foil',{x0:354,x1:551.7,y0:545.3,y1:723.3},jFoilHeat,foilStops,[0.4,0.8]);
heatPanel('j-nmvp',{x0:584.7,x1:779.3,y0:545.3,y1:721},jNMVPHeat,redBlueStops,colorLevels);
heatPanel('j-nmvtp',{x0:817.4,x1:1011.4,y0:545,y1:720},jNMVTPHeat,redBlueStops,colorLevels);
heatPanel('k-v-foil',{x0:349.8,x1:547.8,y0:785,y1:963.3},kFoilHeat,redBlueStops,colorLevels);
heatPanel('k-nmvp',{x0:582,x1:780,y0:784,y1:962.3},kNMVPHeat,redBlueStops,colorLevels);
heatPanel('k-nmvtp',{x0:814.7,x1:1012.3,y0:784,y1:962.3},kNMVTPHeat,redBlueStops,colorLevels);

function colorBar(name,x0,x1,y0,y1,maxV,ticks,topTick,botTick){
  const g=mk('g',{},plots,name);
  const n=80,h=(y1-y0)/n;
  for(let i=0;i<n;i++){
    mk('rect',{x:x0,y:y0+i*h,width:x1-x0,height:h+0.4,fill:colorAt(redBlueStops,1-(i+0.5)/n),'shape-rendering':'crispEdges'},g,name+'-segment');
  }
  const sv=linear(0,maxV,botTick,topTick);
  ticks.forEach(t=>{
    mk('line',{x1:x1,x2:x1+3,y1:sv(t),y2:sv(t),stroke:'#222','stroke-width':1},g,name+'-tick');
    const tx=mk('text',{x:x1+5,y:sv(t)+5,style:'font-size:14.5px'},g,name+'-tick-label');
    tx.textContent=t.toFixed(1);
  });
}
colorBar('j-colorbar',1026,1040,546.7,721.7,0.5,jBarTicks,549,718);
colorBar('k-colorbar',1026,1039,786,963.3,0.8,kBarTicks,788,960.7);

// ---------- panel b crystal ----------
const octaCentersZoom=[[165,155],[55,218],[245,230],[395,210],[55,318],[170,310],[240,335],[395,310],[170,395],[285,375],[55,462],[240,465],[395,448],[295,475],[55,565],[170,540],[240,575],[395,550],[285,610]];
const tetraCentersZoom=[[120,255],[195,290],[340,262],[290,195],[335,185],[110,340],[175,355],[320,345],[330,420],[110,510],[185,520],[290,515],[130,590],[345,510],[230,190],[345,570]];
const na1Zoom=[[55,150],[205,128],[240,160],[393,140],[170,228],[283,302],[55,393],[240,403],[395,380],[168,467],[285,545],[60,630],[243,640],[397,618]];
const na2Zoom=[[115,195],[222,188],[325,248],[172,278],[297,272],[342,345],[212,372],[105,423],[183,437],[152,495],[122,513],[228,510],[340,508],[335,575],[290,592]];
const looseOxygenZoom=[[90,178],[155,225],[322,285],[322,305],[318,328],[125,465],[125,488],[380,515],[345,562],[210,610],[320,630],[130,600]];
(function(){
  const g=mk('g',{},plots,'crystal-structure');
  const zx=v=>v/3+510,zy=v=>v/3;
  mk('path',{d:'M'+zx(55)+' '+zy(150)+' L'+zx(140)+' '+zy(135)+' M'+zx(240)+' '+zy(130)+' L'+zx(393)+' '+zy(140)+' M'+zx(60)+' '+zy(630)+' L'+zx(243)+' '+zy(612)+' M'+zx(243)+' '+zy(640)+' L'+zx(397)+' '+zy(618)+' M'+zx(55)+' '+zy(150)+' L'+zx(60)+' '+zy(630)+' M'+zx(393)+' '+zy(140)+' L'+zx(397)+' '+zy(618),fill:'none',stroke:'#666','stroke-width':0.8},g,'unit-cell-edges');
  tetraCentersZoom.forEach(c=>{
    const x=zx(c[0]),y=zy(c[1]);
    mk('polygon',{points:(x-11)+','+(y+8)+' '+(x+2)+','+(y-12)+' '+(x+11)+','+(y+9),fill:'#a39cc8','fill-opacity':0.75,stroke:'#8f88bc','stroke-width':0.5},g,'po4-tetrahedron');
    [[-11,8],[2,-12],[11,9]].forEach(o=>{mk('circle',{cx:x+o[0],cy:y+o[1],r:1.9,fill:'#c23a3a'},g,'oxygen-atom');});
  });
  function octa(x,y,s,parent){
    const v=[[-12,-5],[-3,-13],[12,-8],[13,7],[3,13],[-11,8]];
    mk('polygon',{points:v.map(o=>(x+o[0]*s)+','+(y+o[1]*s)).join(' '),fill:'#5a7ca6',stroke:'#44628c','stroke-width':0.5},parent,'octahedron-body');
    mk('polygon',{points:(x-3*s)+','+(y-13*s)+' '+(x+12*s)+','+(y-8*s)+' '+(x+3*s)+','+(y+13*s),fill:'#37568a','fill-opacity':0.6},parent,'octahedron-shadow-face');
    mk('path',{d:'M'+(x-12*s)+' '+(y-5*s)+' L'+(x+13*s)+' '+(y+7*s)+' M'+(x-3*s)+' '+(y-13*s)+' L'+(x+3*s)+' '+(y+13*s),fill:'none',stroke:'#5d6fc8','stroke-width':0.9},parent,'octahedron-bonds');
    v.forEach(o=>{mk('circle',{cx:x+o[0]*s,cy:y+o[1]*s,r:1.9*Math.max(s,0.9),fill:'#c23a3a'},parent,'oxygen-atom');});
  }
  octaCentersZoom.forEach(c=>octa(zx(c[0]),zy(c[1]),1,g));
  looseOxygenZoom.forEach(c=>{mk('circle',{cx:zx(c[0]),cy:zy(c[1]),r:1.9,fill:'#c23a3a'},g,'oxygen-atom');});
  na2Zoom.forEach(c=>{mk('circle',{cx:zx(c[0]),cy:zy(c[1]),r:5.2,fill:'#e6eba8',stroke:'#b8bd70','stroke-width':0.5},g,'na2-atom');});
  na1Zoom.forEach(c=>{mk('circle',{cx:zx(c[0]),cy:zy(c[1]),r:5.4,fill:'#dcdc28',stroke:'#b5b530','stroke-width':0.5},g,'na1-atom');});
  // legend icons
  const px=675.7,py=193;
  mk('polygon',{points:(px-9)+','+(py-6)+' '+(px+10)+','+(py-7)+' '+(px+3)+','+(py+9),fill:'#7d76b8',stroke:'#5d568f','stroke-width':0.6},g,'po4-legend-icon');
  [[-9,-6],[10,-7],[3,9],[-3,-9],[12,-2],[-6,0]].forEach(o=>{mk('circle',{cx:px+o[0],cy:py+o[1],r:2,fill:'#c23a3a'},g,'po4-legend-oxygen');});
  octa(653,229,0.85,g);
})();
</script>
</body>
</html>
